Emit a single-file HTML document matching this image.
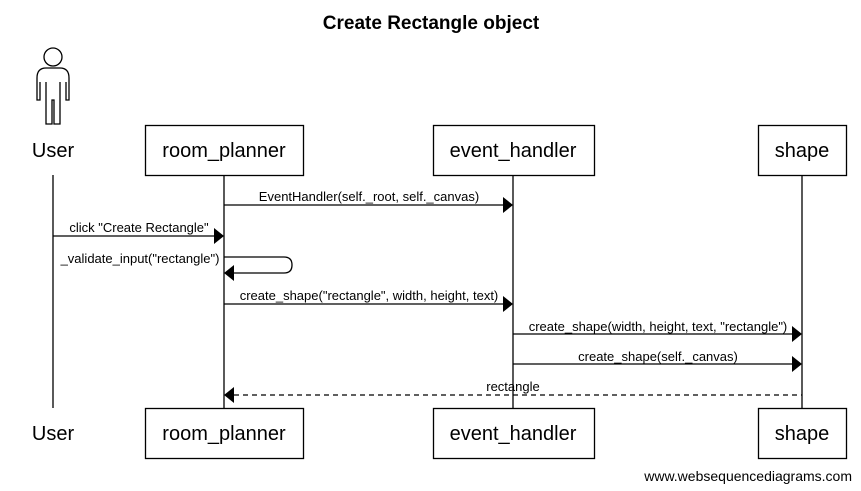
<!DOCTYPE html>
<html><head><style>body{margin:0;background:#fff}svg{display:block}</style></head><body>
<svg width="861" height="491" xmlns="http://www.w3.org/2000/svg" font-family="Liberation Sans, Arial, sans-serif">
<rect width="861" height="491" fill="#fff"/>
<text x="431" y="29" font-size="19" font-weight="bold" text-anchor="middle">Create Rectangle object</text>
<g stroke="#000" stroke-width="1.3" fill="none">
<line x1="53" y1="175" x2="53" y2="408"/>
<line x1="224" y1="175" x2="224" y2="408"/>
<line x1="513" y1="175" x2="513" y2="408"/>
<line x1="802" y1="175" x2="802" y2="408"/>
<rect x="145.5" y="125.5" width="158" height="50" fill="#fff"/>
<rect x="433.5" y="125.5" width="161" height="50" fill="#fff"/>
<rect x="758.5" y="125.5" width="88" height="50" fill="#fff"/>
<rect x="145.5" y="408.5" width="158" height="50" fill="#fff"/>
<rect x="433.5" y="408.5" width="161" height="50" fill="#fff"/>
<rect x="758.5" y="408.5" width="88" height="50" fill="#fff"/>
<!-- actor -->
<circle cx="53" cy="57" r="9"/>
<path d="M46 68 H60 Q69 68 69 78 V100 H66 V82 M40 82 V100 H37 V78 Q37 68 46 68 M46 82 V124 H52 V100 H54 V124 H60 V82 M40 82 V100"/>
<line x1="224" y1="205" x2="503" y2="205"/>
<line x1="53" y1="236" x2="214" y2="236"/>
<path d="M224 257 H284 Q292 257 292 265 Q292 273 284 273 H234"/>
<line x1="224" y1="304" x2="503" y2="304"/>
<line x1="513" y1="334" x2="792" y2="334"/>
<line x1="513" y1="364" x2="792" y2="364"/>
<line x1="234" y1="395" x2="802" y2="395" stroke-dasharray="5,4"/>
</g>
<g fill="#000">
<polygon points="513,205 503,197 503,213"/>
<polygon points="224,236 214,228 214,244"/>
<polygon points="224,273 234,265 234,281"/>
<polygon points="513,304 503,296 503,312"/>
<polygon points="802,334 792,326 792,342"/>
<polygon points="802,364 792,356 792,372"/>
<polygon points="224,395 234,387 234,403"/>
</g>
<g font-size="20" text-anchor="middle">
<text x="53" y="157">User</text>
<text x="224" y="157">room_planner</text>
<text x="513" y="157">event_handler</text>
<text x="802" y="157">shape</text>
<text x="53" y="440">User</text>
<text x="224" y="440">room_planner</text>
<text x="513" y="440">event_handler</text>
<text x="802" y="440">shape</text>
</g>
<g font-size="13" text-anchor="middle">
<text x="369" y="201">EventHandler(self._root, self._canvas)</text>
<text x="139" y="232">click "Create Rectangle"</text>
<text x="140" y="263">_validate_input("rectangle")</text>
<text x="369" y="300">create_shape("rectangle", width, height, text)</text>
<text x="658" y="331">create_shape(width, height, text, "rectangle")</text>
<text x="658" y="361">create_shape(self._canvas)</text>
<text x="513" y="391">rectangle</text>
</g>
<text x="852" y="481" font-size="14" text-anchor="end">www.websequencediagrams.com</text>
</svg>
</body></html>
